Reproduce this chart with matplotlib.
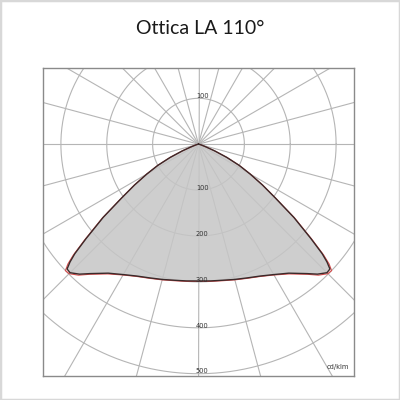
import numpy as np
import matplotlib
matplotlib.use("Agg")
import matplotlib.pyplot as plt
from matplotlib.patches import Rectangle

# intensità in cd/klm, angolo dalla verticale verso il basso (gradi)
angles = [0, 5, 10, 15, 20, 25, 30, 35, 40, 42.5, 45, 46.5, 47.5, 48.5, 50,
          52.5, 55, 57.5, 60, 62.5, 65, 67.5, 70, 75, 80, 90]
c0_cd = [298, 299, 301, 305, 310, 317, 328, 343, 368, 384, 396, 395, 380, 360, 320,
         262, 205, 165, 130, 100, 68, 38, 18, 6, 2, 0]
c90_cd = [299, 300, 302, 306, 311, 318, 329, 345, 370, 387, 399, 400, 386, 364, 323,
          264, 206, 166, 131, 101, 69, 39, 18, 6, 2, 0]
ring_values = [100, 200, 300, 400, 500]
title = "Ottica LA 110°"
unit = "cd/klm"


def to_xy(ang, vals):
    """curva simmetrica -> coordinate cartesiane"""
    a = np.radians(np.concatenate([-np.array(ang)[::-1], np.array(ang)[1:]]))
    v = np.concatenate([np.array(vals)[::-1], np.array(vals)[1:]])
    return v * np.sin(a), -v * np.cos(a)


fig = plt.figure(figsize=(4, 4), dpi=100)
fig.patches.append(Rectangle((0, 0), 1, 1, transform=fig.transFigure,
                             fill=False, edgecolor="#d8d8d8", lw=2.5))
ax = fig.add_axes([43 / 400, 24 / 400, 311 / 400, 308 / 400])
ax.set_xlim(-339, 339)
ax.set_ylim(-505, 166)

grid_col = "#b5b5b5"
# cerchi
t = np.linspace(0, 2 * np.pi, 400)
for r in ring_values:
    ax.plot(r * np.cos(t), r * np.sin(t), color=grid_col, lw=0.8, zorder=1)
# raggi ogni 15 gradi
for a in np.arange(0, 180, 15):
    ar = np.radians(a)
    ax.plot([-1000 * np.cos(ar), 1000 * np.cos(ar)],
            [-1000 * np.sin(ar), 1000 * np.sin(ar)], color=grid_col, lw=0.8, zorder=1)

x0, y0 = to_xy(angles, c0_cd)
x90, y90 = to_xy(angles, c90_cd)
ax.fill(x0, y0, color="#c6c6c6", alpha=0.85, zorder=2, lw=0)
ax.plot(x90, y90, color="#d84a4a", lw=0.8, zorder=3)
ax.plot(x0, y0, color="#3a2a2a", lw=1.0, zorder=4)

for r in ring_values:
    ax.text(8, -r + 5, str(r), fontsize=4.8, color="#333333", ha="center", va="center", zorder=5)
ax.text(8, 100 + 5, "100", fontsize=4.8, color="#333333", ha="center", va="center", zorder=5)
ax.text(0.985, 0.02, unit, transform=ax.transAxes, fontsize=4.8, color="#333333",
        ha="right", va="bottom")

ax.set_xticks([])
ax.set_yticks([])
for s in ax.spines.values():
    s.set_color("#8a8a8a")
    s.set_linewidth(1.0)

fig.text(0.5, 0.93, title, fontsize=14, family="Lato", color="#1a1a1a",
         ha="center", va="center")

fig.savefig("out.png", dpi=100)
